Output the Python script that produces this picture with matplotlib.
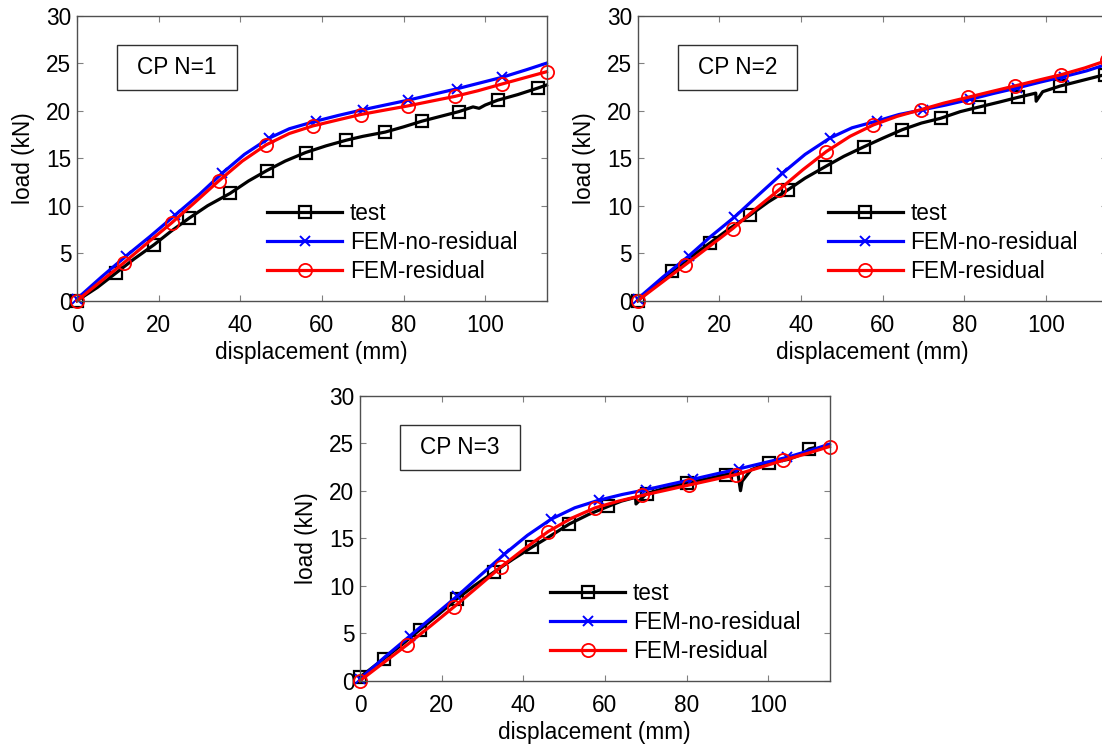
import matplotlib
matplotlib.use('Agg')
import matplotlib.pyplot as plt
from matplotlib.patches import Rectangle

plt.rcParams['font.family'] = ['Liberation Sans', 'DejaVu Sans']

# ---- data (displacement mm, load kN) ----
# CP N=1
test1_x = [0, 5, 9.5, 14, 18.9, 23, 27.5, 32, 37.5, 42, 46.5, 51, 56, 61, 66, 70, 75.5, 80, 84.5, 89,
           93.5, 97, 98.5, 100, 103, 108, 113, 115]
test1_y = [0, 1.4, 2.9, 4.4, 5.9, 7.3, 8.7, 10.0, 11.3, 12.6, 13.7, 14.7, 15.6, 16.3, 16.9, 17.3, 17.75, 18.3,
           18.9, 19.4, 19.9, 20.4, 20.25, 20.6, 21.1, 21.7, 22.4, 22.7]
test1_marks = [0, 2, 4, 6, 8, 10, 12, 14, 16, 18, 20, 24, 26]
nores1_x = [0, 6, 12, 18, 24, 30, 35.5, 41, 47, 52, 58.5, 64, 70, 75.5, 81, 87, 93, 98.5, 104, 110, 115]
nores1_y = [0.2, 2.5, 4.7, 6.8, 9.0, 11.2, 13.4, 15.4, 17.1, 18.1, 18.9, 19.5, 20.1, 20.6, 21.1, 21.7, 22.3,
            22.9, 23.5, 24.3, 25.0]
res1_x = [0, 5.75, 11.5, 17.3, 23.2, 29, 34.7, 40.5, 46.3, 52, 57.8, 63.6, 69.5, 75.2, 81, 86.7, 92.5, 98.2,
          104, 109.5, 115]
res1_y = [0, 2.0, 4.0, 6.1, 8.2, 10.4, 12.6, 14.7, 16.4, 17.6, 18.4, 19.0, 19.6, 20.05, 20.5, 21.0, 21.5, 22.1,
          22.8, 23.45, 24.1]

# CP N=2
test2_x = [0, 4, 8.5, 13, 17.8, 22.5, 27.5, 32, 36.9, 41, 45.9, 50.5, 55.4, 60, 64.8, 69.5, 74.2, 79, 83.7,
           88.5, 93.1, 97.5, 97.6, 99.2, 103.5, 109, 114.5, 115]
test2_y = [0, 1.5, 3.1, 4.6, 6.1, 7.6, 9.0, 10.4, 11.7, 12.9, 14.1, 15.2, 16.2, 17.1, 18.0, 18.7, 19.2, 19.9,
           20.4, 20.9, 21.4, 21.85, 21.0, 22.0, 22.6, 23.2, 23.8, 23.85]
test2_marks = [0, 2, 4, 6, 8, 10, 12, 14, 16, 18, 20, 24, 26]
nores2_x = [0, 6.2, 12.5, 18, 23.7, 29.5, 35.4, 41, 47, 52.5, 58.5, 64, 69.8, 75.5, 81.5, 87, 93, 98.5, 104.5,
            110, 115]
nores2_y = [0.2, 2.5, 4.7, 6.8, 8.8, 11.1, 13.4, 15.4, 17.1, 18.2, 18.9, 19.6, 20.1, 20.6, 21.2, 21.8, 22.4,
            23.0, 23.6, 24.2, 24.9]
res2_x = [0, 5.85, 11.7, 17.5, 23.3, 29, 34.7, 40.5, 46.2, 52, 57.7, 63.5, 69.3, 75, 80.8, 86.5, 92.3, 98,
          103.8, 109.5, 115]
res2_y = [0, 1.9, 3.8, 5.7, 7.6, 9.7, 11.7, 13.8, 15.7, 17.3, 18.5, 19.4, 20.1, 20.8, 21.4, 22.0, 22.6, 23.2,
          23.8, 24.5, 25.3]

# CP N=3
test3_x = [0, 2.5, 5.8, 10, 14.6, 19, 23.7, 28, 32.7, 37.5, 42.1, 46.5, 51.3, 56, 60.8, 64, 67.5, 67.6, 70.2,
           75, 80.1, 85, 89.6, 92.5, 93.2, 93.6, 95.8, 100.2, 105, 108, 110, 111]
test3_y = [0.4, 1.2, 2.3, 3.7, 5.35, 6.9, 8.6, 10.0, 11.4, 12.8, 14.05, 15.2, 16.5, 17.5, 18.35, 18.9, 19.3,
           18.6, 19.7, 20.3, 20.8, 21.25, 21.7, 22.0, 20.0, 21.0, 22.2, 22.95, 23.3, 23.8, 24.4, 24.5]
test3_marks = [0, 2, 4, 6, 8, 10, 12, 14, 18, 20, 22, 27, 30]
nores3_x = [0, 6.1, 12.2, 18, 23.8, 29.5, 35.3, 41, 46.8, 52.6, 58.5, 64.2, 70, 75.7, 81.5, 87.1, 92.8, 98.6,
            104.5, 110, 115]
nores3_y = [0.2, 2.5, 4.7, 6.8, 8.9, 11.1, 13.3, 15.3, 17.0, 18.2, 19.0, 19.6, 20.1, 20.65, 21.2, 21.75, 22.3,
            22.9, 23.5, 24.2, 24.9]
res3_x = [0, 5.8, 11.6, 17.4, 23.1, 28.9, 34.6, 40.3, 46.1, 51.8, 57.6, 63.3, 69.1, 74.9, 80.6, 86.4, 92.2, 98,
          103.7, 109.4, 115]
res3_y = [0, 1.9, 3.8, 5.8, 7.8, 9.9, 12.0, 13.9, 15.7, 17.1, 18.2, 18.9, 19.5, 20.05, 20.6, 21.15, 21.7, 22.45,
          23.2, 23.9, 24.65]

panels = [
    ('CP N=1', test1_x, test1_y, test1_marks, nores1_x, nores1_y, res1_x, res1_y),
    ('CP N=2', test2_x, test2_y, test2_marks, nores2_x, nores2_y, res2_x, res2_y),
    ('CP N=3', test3_x, test3_y, test3_marks, nores3_x, nores3_y, res3_x, res3_y),
]

W, H = 1102, 747
fig = plt.figure(figsize=(W / 100, H / 100), dpi=100)
# axes boxes in pixels: left, top
boxes = [(77, 15.7), (637.7, 15.7), (360, 395.7)]
aw, ah = 469.5, 285

fs = 16.3
frame = '#505050'

for (label, tx, ty, tm, bx, by, rx, ry), (left, top) in zip(panels, boxes):
    ax = fig.add_axes([left / W, 1 - (top + ah) / H, aw / W, ah / H])
    ax.plot(tx, ty, color='black', lw=2.3, marker='s', ms=8, mfc='none', mec='black', mew=1.6,
            markevery=tm, label='test', clip_on=False)
    ax.plot(bx, by, color='#0000ff', lw=2.3, marker='x', ms=7, mec='#0000ff', mew=1.4,
            markevery=list(range(0, 19, 2)), label='FEM-no-residual', clip_on=False)
    ax.plot(rx, ry, color='#ff0000', lw=2.3, marker='o', ms=9.5, mfc='none', mec='#ff0000', mew=1.3,
            markevery=2, label='FEM-residual', clip_on=False)
    ax.set_xlim(0, 115)
    ax.set_ylim(0, 30)
    ax.set_xticks([0, 20, 40, 60, 80, 100])
    ax.set_yticks([0, 5, 10, 15, 20, 25, 30])
    ax.tick_params(direction='in', top=True, right=True, length=4, width=0.8, color='#808080',
                   labelsize=fs, labelcolor='black')
    ax.tick_params(axis='x', pad=9.5)
    ax.tick_params(axis='y', pad=4)
    for s in ax.spines.values():
        s.set_color(frame)
        s.set_linewidth(1.0)
    ax.set_xlabel('displacement (mm)', fontsize=fs, labelpad=3)
    ax.set_ylabel('load (kN)', fontsize=fs, labelpad=8)
    ax.add_patch(Rectangle((0.085, 0.739), 0.255, 0.158, transform=ax.transAxes, fc='white',
                           ec='#303030', lw=1.0, zorder=4))
    ax.text(0.212, 0.818, label, transform=ax.transAxes, fontsize=fs, ha='center', va='center', zorder=5)
    ax.legend(loc='upper left', bbox_to_anchor=(0.405, 0.348), frameon=False, fontsize=fs,
              borderpad=0, borderaxespad=0, handlelength=3.3, handletextpad=0.35, labelspacing=0.27)

fig.savefig('out.png', dpi=100)
